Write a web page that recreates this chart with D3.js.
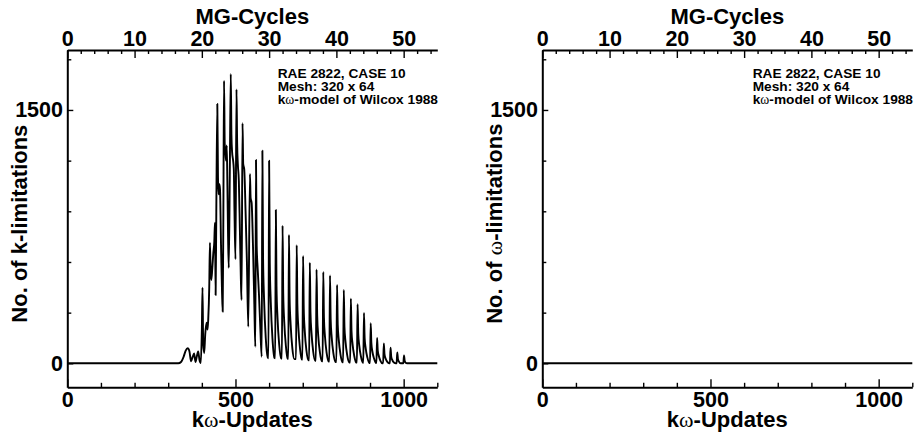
<!DOCTYPE html>
<html>
<head>
<meta charset="utf-8">
<script src="https://cdn.jsdelivr.net/npm/d3@7"></script>
<style>
  html, body { margin: 0; padding: 0; background: #fff; }
  svg { display: block; }
  text { font-family: "Liberation Sans", Arial, Helvetica, sans-serif; font-weight: bold; fill: #000; }
  .greek { font-family: "Liberation Serif", "DejaVu Serif", serif; font-weight: normal; }
</style>
</head>
<body>
<svg id="chart" width="917" height="437"></svg>
<script>
// k-limitation counts per kω-update (RAE 2822, case 10)
const kUpdates = [
  0, 330, 338, 346, 352, 358, 363, 368, 373, 377, 381, 385, 389, 393, 397,
  400, 402, 404, 407, 410, 414, 417, 419, 422, 424, 426, 428, 431, 434, 437,
  439, 441, 443, 446, 448, 450, 452, 454, 457, 460, 462, 464, 466, 468, 470,
  472, 474, 476, 478, 480, 483, 486, 488, 490, 493, 495, 497, 500, 503, 505,
  507, 510, 513, 516, 518, 521, 523, 526, 530, 534, 538, 543, 545, 548, 552,
  556, 559, 561, 563, 566, 570, 574, 578, 580, 582, 585, 590, 596,
  598, 600, 602, 605, 610, 616,
  618, 620, 622, 625, 630, 636,
  638, 640, 642, 645, 650, 655,
  657, 659, 661, 664, 669, 675,
  680, 682, 684, 687, 692, 697,
  699, 701, 703, 706, 711, 717,
  719, 721, 723, 726, 731, 737,
  739, 741, 743, 746, 751, 757,
  759, 761, 763, 766, 771, 777,
  779, 781, 783, 786, 791, 797,
  800, 802, 804, 807, 812, 818,
  820, 822, 824, 827, 832, 838,
  841, 843, 845, 848, 853, 859,
  861, 863, 865, 868, 873, 879,
  880, 882, 884, 887, 892, 898,
  900, 902, 904, 907, 912, 918,
  919, 921, 923, 926, 931, 937,
  939, 941, 943, 946, 951, 957,
  959, 961, 963, 966, 971, 977,
  979, 981, 983, 986, 991,
  999, 1001, 1003, 1006, 1010, 1100
];
const kLimits = [
  0, 0, 8, 40, 75, 89, 72, 12, 40, 58, 8, 40, 70, 20, 2,
  200, 448, 120, 60, 170, 240, 200, 260, 450, 714, 560, 493, 560, 650, 720,
  832, 404, 900, 1535, 1100, 1000, 1060, 1030, 700, 420, 306, 900, 1673, 1300, 1250,
  1200, 1290, 1050, 750, 565, 1100, 1713, 1350, 1250, 1200, 1150, 900, 616, 1622, 1300,
  1180, 1080, 800, 500, 375, 1421, 1180, 1150, 900, 600, 217, 1121, 980, 950, 700,
  350, 98, 1204, 700, 560, 400, 200, 39, 1259, 630, 380, 150, 35,
  30, 1200, 600, 360, 145, 32,
  30, 908, 455, 270, 110, 30,
  28, 815, 410, 245, 100, 28,
  26, 760, 380, 230, 90, 25,
  25, 700, 350, 210, 85, 22,
  22, 635, 320, 190, 75, 18,
  18, 596, 300, 180, 70, 15,
  15, 555, 280, 165, 65, 12,
  12, 541, 270, 160, 62, 10,
  10, 520, 260, 155, 60, 8,
  8, 464, 230, 140, 55, 6,
  6, 434, 215, 130, 50, 5,
  5, 383, 190, 115, 45, 4,
  4, 350, 175, 105, 40, 3,
  3, 298, 150, 90, 35, 2,
  2, 237, 120, 70, 28, 1,
  1, 150, 75, 45, 15, 0,
  0, 118, 55, 30, 10, 0,
  0, 92, 40, 20, 5, 0,
  0, 64, 25, 10, 0,
  0, 47, 15, 3, 0, 0
];

// ω-limitation counts: none occur over the whole run
const wUpdates = [0, 1100];
const wLimits = [0, 0];

// axis tick values
const updateTicks = [0, 500, 1000];
const updateMinor = [100, 200, 300, 400, 600, 700, 800, 900, 1100];
const cycleTicks = [0, 10, 20, 30, 40, 50];
const cycleMinor = [2, 4, 6, 8, 12, 14, 16, 18, 22, 24, 26, 28, 32, 34, 36, 38, 42, 44, 46, 48, 52, 54];
const countTicks = [0, 1500];
const countMinor = [300, 600, 900, 1200, 1800];

const infoLines = [
  [["RAE 2822, CASE 10", false]],
  [["Mesh: 320 x 64", false]],
  [["k", false], ["ω", true], ["-model of Wilcox 1988", false]]
];

const svg = d3.select("#chart");
const W = 370, H = 337.3;
const updatesPerCycle = 20;

function panel(ox, updates, values, yLabelParts) {
  const g = svg.append("g").attr("transform", `translate(${ox},50)`);
  const x = d3.scaleLinear().domain([0, 1100]).range([0, W]);
  const xc = d3.scaleLinear().domain([0, 1100 / updatesPerCycle]).range([0, W]);
  const y = d3.scaleLinear().domain([-142, 1855]).range([H, 0]);

  // data curve
  const pts = updates.map((u, i) => [u, values[i]]);
  g.append("path")
    .datum(pts)
    .attr("fill", "none")
    .attr("stroke", "#000")
    .attr("stroke-width", 1.9)
    .attr("stroke-linejoin", "round")
    .attr("d", d3.line().x(d => x(d[0])).y(d => y(d[1])).curve(d3.curveMonotoneX));

  const fontTick = "21.5px";

  // bottom axis (kω-updates)
  const gb = g.append("g").attr("transform", `translate(0,${H})`);
  gb.call(d3.axisBottom(x).tickValues(updateTicks).tickSize(-8).tickSizeOuter(0).tickPadding(4.4).tickFormat(d3.format("d")));
  gb.append("g").call(d3.axisBottom(x).tickValues(updateMinor).tickSize(-4.5).tickFormat(""))
    .select(".domain").remove();

  // top axis (MG-cycles)
  const gt = g.append("g");
  gt.call(d3.axisTop(xc).tickValues(cycleTicks).tickSize(-8).tickSizeOuter(0).tickPadding(4.5).tickFormat(d3.format("d")));
  gt.append("g").call(d3.axisTop(xc).tickValues(cycleMinor).tickSize(-4).tickFormat(""))
    .select(".domain").remove();

  // left axis (counts)
  const gl = g.append("g");
  gl.call(d3.axisLeft(y).tickValues(countTicks).tickSize(-6).tickSizeOuter(0).tickPadding(4.3).tickFormat(d3.format("d")));
  gl.append("g").call(d3.axisLeft(y).tickValues(countMinor).tickSize(-4).tickFormat(""))
    .select(".domain").remove();

  g.selectAll(".domain").attr("stroke", "#000").attr("stroke-width", 2);
  g.selectAll(".tick line").attr("stroke", "#000").attr("stroke-width", 1.4);
  g.selectAll(".tick text")
    .attr("fill", "#000")
    .style("font-family", '"Liberation Sans", Arial, sans-serif')
    .style("font-weight", "bold")
    .style("font-size", fontTick);

  // axis titles
  g.append("text")
    .attr("x", W / 2).attr("y", -26.5)
    .attr("text-anchor", "middle")
    .style("font-size", "22px")
    .text("MG-Cycles");

  const xt = g.append("text")
    .attr("x", W / 2).attr("y", H + 39.5)
    .attr("text-anchor", "middle")
    .style("font-size", "22px");
  xt.append("tspan").text("k");
  xt.append("tspan").attr("class", "greek").text("ω");
  xt.append("tspan").text("-Updates");

  const yt = g.append("text")
    .attr("transform", `translate(-40.6,${H / 2 + 5}) rotate(-90)`)
    .attr("text-anchor", "middle")
    .style("font-size", "22px");
  yLabelParts.forEach(([s, greek]) => {
    const t = yt.append("tspan").text(s);
    if (greek) t.attr("class", "greek");
  });

  // case description
  const info = g.append("text").style("font-size", "13.7px");
  infoLines.forEach((parts, i) => {
    const line = info.append("tspan").attr("x", 210.4).attr("y", 28.3 + i * 12.6);
    parts.forEach(([s, greek]) => {
      const t = line.append("tspan").text(s);
      if (greek) t.attr("class", "greek");
    });
  });
}

panel(67.3, kUpdates, kLimits, [["No. of k-limitations", false]]);
panel(542.3, wUpdates, wLimits, [["No. of ", false], ["ω", true], ["-limitations", false]]);
</script>
</body>
</html>
